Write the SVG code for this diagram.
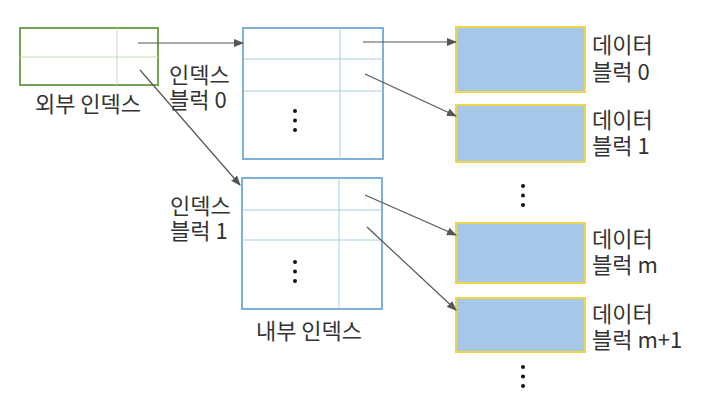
<svg xmlns="http://www.w3.org/2000/svg" width="709" height="411" viewBox="0 0 709 411">
<defs>
<marker id="ah" markerWidth="10" markerHeight="8" refX="9" refY="4" orient="auto" markerUnits="userSpaceOnUse">
<path d="M0,0 L10,4 L0,8 Z" fill="#555"/>
</marker>
<style>
.t{font-family:"Noto Sans CJK KR","Noto Sans",sans-serif;font-size:22px;fill:#333}
.grid{stroke:#a9cfe0;stroke-width:1;fill:none}
.idx{fill:#fff;stroke:#7fb0d8;stroke-width:2}
.data{fill:#a5c8e8;stroke:#f0d44a;stroke-width:2}
.conn{stroke:#555;stroke-width:1.2;fill:none;marker-end:url(#ah)}
.dot{fill:#111}
</style>
</defs>
<rect width="709" height="411" fill="#fff"/>

<g id="outer-index">
<rect x="20" y="28" width="138" height="57" fill="#fff" stroke="#76a356" stroke-width="2"/>
<line x1="20" y1="57" x2="158" y2="57" stroke="#c5dcb4" stroke-width="1"/>
<line x1="117" y1="28" x2="117" y2="85" stroke="#c5dcb4" stroke-width="1"/>
<text class="t" x="88" y="112" text-anchor="middle">외부 인덱스</text>
</g>

<g id="index-block-0">
<rect class="idx" x="243" y="28" width="140" height="131"/>
<line class="grid" x1="243" y1="59" x2="383" y2="59"/>
<line class="grid" x1="243" y1="91" x2="383" y2="91"/>
<line class="grid" x1="340" y1="28" x2="340" y2="159"/>
<circle class="dot" cx="295" cy="111" r="2"/>
<circle class="dot" cx="295" cy="120.5" r="2"/>
<circle class="dot" cx="295" cy="130" r="2"/>
<text class="t" x="169" y="83">인덱스<tspan x="169" y="108">블럭 0</tspan></text>
</g>

<g id="index-block-1">
<rect class="idx" x="242" y="178" width="140" height="131"/>
<line class="grid" x1="242" y1="210" x2="382" y2="210"/>
<line class="grid" x1="242" y1="240" x2="382" y2="240"/>
<line class="grid" x1="339" y1="178" x2="339" y2="309"/>
<circle class="dot" cx="295" cy="262" r="2"/>
<circle class="dot" cx="295" cy="271.5" r="2"/>
<circle class="dot" cx="295" cy="281" r="2"/>
<text class="t" x="170" y="214">인덱스<tspan x="170" y="239">블럭 1</tspan></text>
<text class="t" x="309" y="339" text-anchor="middle">내부 인덱스</text>
</g>

<g id="data-block-0">
<rect class="data" x="456" y="27" width="129" height="65"/>
<text class="t" x="592" y="53">데이터<tspan x="592" y="80">블럭 0</tspan></text>
</g>
<g id="data-block-1">
<rect class="data" x="456" y="105" width="129" height="57"/>
<text class="t" x="592" y="128">데이터<tspan x="592" y="154">블럭 1</tspan></text>
</g>
<g id="data-dots-1">
<circle class="dot" cx="523" cy="186" r="2"/>
<circle class="dot" cx="523" cy="195.5" r="2"/>
<circle class="dot" cx="523" cy="205" r="2"/>
</g>
<g id="data-block-m">
<rect class="data" x="456" y="223" width="129" height="60"/>
<text class="t" x="592" y="247">데이터<tspan x="592" y="273">블럭 m</tspan></text>
</g>
<g id="data-block-m1">
<rect class="data" x="456" y="298" width="129" height="54"/>
<text class="t" x="592" y="322">데이터<tspan x="592" y="348">블럭 m+1</tspan></text>
</g>
<g id="data-dots-2">
<circle class="dot" cx="523" cy="367" r="2"/>
<circle class="dot" cx="523" cy="376.5" r="2"/>
<circle class="dot" cx="523" cy="386" r="2"/>
</g>

<g id="connectors">
<line class="conn" x1="138" y1="43" x2="243" y2="43"/>
<line class="conn" x1="140" y1="70" x2="240" y2="185"/>
<line class="conn" x1="363" y1="42" x2="456" y2="42"/>
<line class="conn" x1="365" y1="74" x2="456" y2="116"/>
<line class="conn" x1="365" y1="195" x2="456" y2="235"/>
<line class="conn" x1="367" y1="227" x2="456" y2="310"/>
</g>
</svg>
